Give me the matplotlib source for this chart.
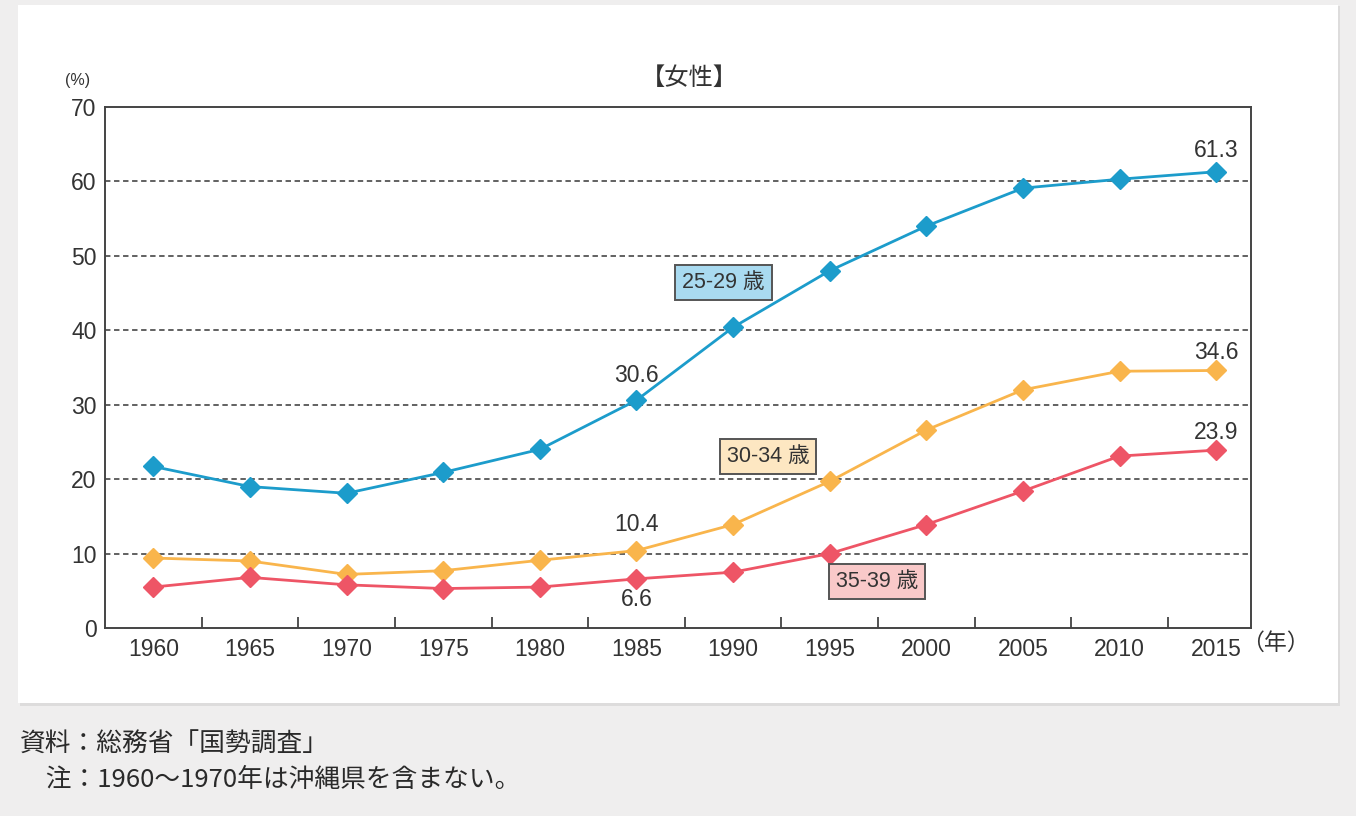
import matplotlib
matplotlib.use("Agg")
import matplotlib.pyplot as plt
from matplotlib.patches import Rectangle
import numpy as np

plt.rcParams['font.family'] = ['Liberation Sans', 'Noto Sans CJK JP', 'DejaVu Sans']

years = ["1960", "1965", "1970", "1975", "1980", "1985", "1990",
         "1995", "2000", "2005", "2010", "2015"]
age_25_29 = [21.7, 19.0, 18.1, 20.9, 24.0, 30.6, 40.4, 48.0, 54.0, 59.1, 60.3, 61.3]
age_30_34 = [9.4, 9.0, 7.2, 7.7, 9.1, 10.4, 13.9, 19.7, 26.6, 32.0, 34.5, 34.6]
age_35_39 = [5.5, 6.8, 5.8, 5.3, 5.5, 6.6, 7.5, 10.0, 13.9, 18.4, 23.1, 23.9]
series_names = ["25-29 歳", "30-34 歳", "35-39 歳"]
yticks = [0, 10, 20, 30, 40, 50, 60, 70]

blue = "#1c9ccb"
orange = "#f9b54c"
red = "#ee5566"
dark = "#444444"
jp = ['Noto Sans CJK JP', 'DejaVu Sans']

fig = plt.figure(figsize=(13.56, 8.16), dpi=100)
fig.patch.set_facecolor("#efeeee")
# white panel with a soft shadow
fig.patches.append(Rectangle((20 / 1356, 1 - 706 / 816), 1320 / 1356, 700 / 816,
                             transform=fig.transFigure, facecolor="#dddcdc",
                             edgecolor="none", zorder=-2))
fig.patches.append(Rectangle((18 / 1356, 1 - 703 / 816), 1320 / 1356, 698 / 816,
                             transform=fig.transFigure, facecolor="white",
                             edgecolor="none", zorder=-1))

ax = fig.add_axes([105 / 1356, 1 - 628 / 816, 1146 / 1356, 521 / 816])
ax.set_zorder(1)
ax.set_facecolor("white")
x = np.arange(len(years))

for vals, c in [(age_25_29, blue), (age_30_34, orange), (age_35_39, red)]:
    ax.plot(x, vals, color=c, lw=2.0, marker="D", ms=10.5, zorder=3)

ax.set_xlim(-0.5, 11.36)
ax.set_ylim(0, 70)
ax.set_yticks(yticks)
ax.set_xticks(x)
ax.set_xticklabels(years)
ax.set_xticks(np.arange(0.5, 11, 1), minor=True)
ax.tick_params(axis="x", which="major", length=0, pad=7, labelsize=16.5, colors="#333333")
ax.tick_params(axis="x", which="minor", length=8, direction="in", width=1.3, color=dark)
ax.tick_params(axis="y", length=0, pad=6, labelsize=16.5, colors="#333333")

for y in yticks[1:-1]:
    ax.axhline(y, color="#555555", lw=1.3, ls=(0, (3, 2)), zorder=1)

for s in ax.spines.values():
    s.set_color(dark)
    s.set_linewidth(1.4)

# value labels (offset in points from the marker)
lab = dict(fontsize=16.5, color="#333333", ha="center", va="center", textcoords="offset points")
ax.annotate("61.3", (11, age_25_29[11]), xytext=(0, 15), **lab)
ax.annotate("30.6", (5, age_25_29[5]), xytext=(0, 17.5), **lab)
ax.annotate("34.6", (11, age_30_34[11]), xytext=(0, 13), **lab)
ax.annotate("10.4", (5, age_30_34[5]), xytext=(0, 18.5), **lab)
ax.annotate("23.9", (11, age_35_39[11]), xytext=(0, 12.5), **lab)
ax.annotate("6.6", (5, age_35_39[5]), xytext=(0, -15), **lab)

# series name boxes
box_pos = [(5.90, 46.4), (6.36, 23.0), (7.49, 6.2)]
box_fc = ["#a9daf0", "#fde7c2", "#f9c9c9"]
for name, (bx, by), fc in zip(series_names, box_pos, box_fc):
    ax.text(bx, by, name, fontsize=15.5, color="#333333", ha="center", va="center",
            bbox=dict(boxstyle="square,pad=0.32", fc=fc, ec="#555555", lw=1.4), zorder=4)

fig.text(689 / 1356, 1 - 78 / 816, "【女性】", fontsize=17.5, family=jp,
         ha="center", va="center", color="#333333")
fig.text(78 / 1356, 1 - 80 / 816, "(%)", fontsize=11.5, ha="center", va="center", color="#333333")
fig.text(1275 / 1356, 1 - 643 / 816, "（年）", fontsize=16.5, ha="center", va="center", color="#333333")

fig.text(20 / 1356, 1 - 745 / 816, "資料：総務省「国勢調査」", fontsize=18.5, family=jp,
         ha="left", va="center", color="#2a2a2a")
fig.text(20 / 1356, 1 - 780 / 816, "　注：1960～1970年は沖縄県を含まない。", fontsize=18.5,
         family=jp, ha="left", va="center", color="#2a2a2a")

fig.savefig("out.png", dpi=100, facecolor=fig.get_facecolor())
